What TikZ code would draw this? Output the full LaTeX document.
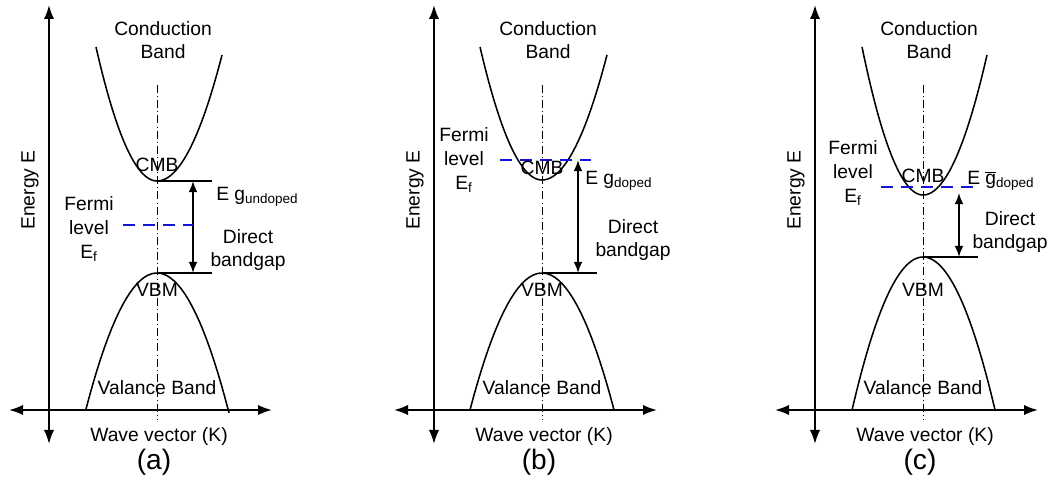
\documentclass[tikz,border=0pt]{standalone}
\usepackage{fontspec}
\setmainfont{Liberation Sans}
\usetikzlibrary{arrows.meta}
\definecolor{fermiblue}{RGB}{20,20,210}
\tikzset{
  axis/.style={line width=1.4pt, {Latex[length=0.35cm,width=0.26cm]}-{Latex[length=0.35cm,width=0.26cm]}},
  band/.style={line width=1.1pt},
  level/.style={line width=1pt},
  gap/.style={line width=1.1pt, {Latex[length=0.28cm,width=0.22cm]}-{Latex[length=0.28cm,width=0.22cm]}},
  fermi/.style={line width=1.1pt, color=fermiblue, dash pattern=on 0.3cm off 0.2cm},
  centre/.style={line width=0.6pt, dash pattern=on 0.2cm off 0.08cm on 0.02cm off 0.08cm},
  lbl/.style={font=\fontsize{13.7}{16.8}\selectfont, inner sep=0pt, align=center},
  caption/.style={font=\fontsize{20}{24}\selectfont, inner sep=0pt},
}
\begin{document}
\begin{tikzpicture}[x=0.025cm, y=-0.025cm]
    \useasboundingbox (0,0) rectangle (1057,484);
    % parts shared by the three panels
    \foreach \cx/\tag in {157/a, 542/b, 923/c} {
      \begin{scope}[shift={(\cx,0)}]
        \draw[axis] (-148,410) -- (115,410);
        \draw[axis] (-108,5) -- (-108,444);
        \draw[centre] (0,85) -- (0,420);
        \node[lbl] (cb-\tag) at (6,40) {Conduction\\Band};
        \node[lbl] (vb-\tag) at (0,388) {Valance Band};
        \node[lbl] (k-\tag) at (2,437) {Wave vector (K)};
        \node[caption] (cap-\tag) at (-3,462) {(\tag)};
        \node[lbl, rotate=90] (e-\tag) at (-127,190) {Energy E};
      \end{scope}
    }
    % (a) undoped
    \begin{scope}[shift={(157,0)}]
      \draw[band] plot[domain=-61:0, samples=30] (\x, {181-0.036*\x*\x}) -- plot[domain=0:65, samples=30] (\x, {181-0.0298*\x*\x});
      \draw[band, domain=-71:72, samples=40] plot (\x, {273+0.027*\x*\x});
      \coordinate (cmbA) at (0,181);
      \coordinate (vbmA) at (0,273);
      \coordinate (gtA) at (36,181);
      \coordinate (gbA) at (36,273);
      \draw[level] (cmbA) -- (55,181);
      \draw[level] (vbmA) -- (55,273);
      \draw[gap] (gtA) -- (gbA);
      \draw[fermi] (-34,225) -- (36,225);
      \node[lbl] (cmb-a) at (0,165) {CMB};
      \node[lbl] (vbm-a) at (0,290) {VBM};
      \node[lbl] (ef-a) at (-68,229) {Fermi\\level\\E\textsubscript{f}};
      \node[lbl, anchor=west] (eg-a) at (59,197) {E g\textsubscript{undoped}};
      \node[lbl] (dg-a) at (91,250) {Direct\\bandgap};
    \end{scope}
    % (b) doped
    \begin{scope}[shift={(542,0)}]
      \draw[band] plot[domain=-62:0, samples=30] (\x, {180-0.0346*\x*\x}) -- plot[domain=0:65, samples=30] (\x, {180-0.0296*\x*\x});
      \draw[band, domain=-72:72, samples=40] plot (\x, {273+0.0264*\x*\x});
      \coordinate (vbmB) at (0,273);
      \coordinate (gtB) at (36,160);
      \coordinate (gbB) at (36,273);
      \draw[level] (vbmB) -- (55,273);
      \draw[gap] (gtB) -- (gbB);
      \draw[fermi] (-42,160) -- (49,160);
      \node[lbl] (cmb-b) at (0,168) {CMB};
      \node[lbl] (vbm-b) at (0,290) {VBM};
      \node[lbl] (ef-b) at (-78,160) {Fermi\\level\\E\textsubscript{f}};
      \node[lbl, anchor=west] (eg-b) at (43,181) {E g\textsubscript{doped}};
      \node[lbl] (dg-b) at (91,240) {Direct\\bandgap};
    \end{scope}
    % (c) doped, gap renormalised
    \begin{scope}[shift={(923,0)}]
      \draw[band] plot[domain=-61:0, samples=30] (\x, {195-0.0398*\x*\x}) -- plot[domain=0:64, samples=30] (\x, {195-0.0342*\x*\x});
      \draw[band] plot[domain=-71:0, samples=30] (\x, {257+0.0304*\x*\x}) -- plot[domain=0:72, samples=30] (\x, {257+0.0295*\x*\x});
      \coordinate (vbmC) at (0,257);
      \coordinate (gtC) at (36,193);
      \coordinate (gbC) at (36,257);
      \draw[level] (vbmC) -- (55,257);
      \draw[gap] (gtC) -- (gbC);
      \draw[fermi] (-42,187) -- (50,187);
      \node[lbl] (cmb-c) at (0,176) {CMB};
      \node[lbl] (vbm-c) at (0,290) {VBM};
      \node[lbl] (ef-c) at (-70,173) {Fermi\\level\\E\textsubscript{f}};
      \node[lbl, anchor=west] (eg-c) at (44,181) {E $\overline{\mbox{g}}$\textsubscript{doped}};
      \node[lbl] (dg-c) at (87,232) {Direct\\bandgap};
    \end{scope}
\end{tikzpicture}
\end{document}
